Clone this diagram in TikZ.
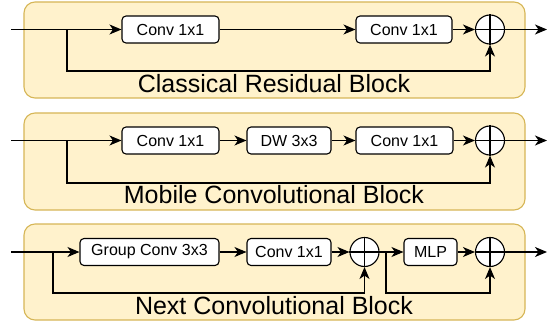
\documentclass[tikz,border=0pt]{standalone}
\usepackage{fontspec}
\setmainfont{Liberation Sans}
\usepackage{tikz}
\usetikzlibrary{arrows.meta,
    positioning}

\definecolor{panelfill}{HTML}{FFF2CC}
\definecolor{paneldraw}{HTML}{D6B656}

\begin{document}
\begin{tikzpicture}[x=1pt,y=-1pt,line width=1.1pt,
    panel/.style={draw=paneldraw,fill=panelfill,rounded corners=11pt},
    opbox/.style={draw,fill=white,rounded corners=4pt,minimum height=27pt,inner sep=0pt,
      font=\fontsize{16}{19}\selectfont},
    addop/.style={draw,fill=white,circle,minimum size=29pt,inner sep=0pt},
    arr/.style={-{Stealth[length=12pt,width=10pt,inset=3.5pt]}},
    blocklabel/.style={font=\fontsize{25}{30}\selectfont,inner sep=0pt}]
                  \useasboundingbox (0,0) rectangle (547,321);
                  % panels
                  \draw[panel] (24,2) rectangle (525,98);
                  \draw[panel] (24,113) rectangle (525,210);
                  \draw[panel] (24,224) rectangle (525,320);
                  % classical residual block
                  \coordinate (in1) at (11,29.5);
                  \coordinate (s1) at (67,29.5);
                  \coordinate (b1) at (67,71);
                  \coordinate (out1) at (547,29.5);
                  \node[opbox,minimum width=97pt] (c11) at (170.5,29.5) {Conv 1x1};
                  \node[opbox,minimum width=96pt] (c12) at (404,29.5) {Conv 1x1};
                  \node[addop] (add1) at (490,29.5) {};
                  \draw (add1.north) -- (add1.south) (add1.west) -- (add1.east);
                  \draw[arr] (in1) -- (c11);
                  \draw[arr] (c11) -- (c12);
                  \draw[arr] (c12) -- (add1);
                  \draw[arr] (add1) -- (out1);
                  \draw[arr] (s1) -- (b1) -| (add1);
                  \node[blocklabel] (lab1) at (274,84) {Classical Residual Block};
                  % mobile convolutional block
                  \coordinate (in2) at (11,140.5);
                  \coordinate (s2) at (67,140.5);
                  \coordinate (b2) at (67,183);
                  \coordinate (out2) at (547,140.5);
                  \node[opbox,minimum width=97pt] (c21) at (170.5,140.5) {Conv 1x1};
                  \node[opbox,minimum width=84pt] (dw) at (289,140.5) {DW 3x3};
                  \node[opbox,minimum width=97pt] (c22) at (404.5,140.5) {Conv 1x1};
                  \node[addop] (add2) at (490,140.5) {};
                  \draw (add2.north) -- (add2.south) (add2.west) -- (add2.east);
                  \draw[arr] (in2) -- (c21);
                  \draw[arr] (c21) -- (dw);
                  \draw[arr] (dw) -- (c22);
                  \draw[arr] (c22) -- (add2);
                  \draw[arr] (add2) -- (out2);
                  \draw[arr] (s2) -- (b2) -| (add2);
                  \node[blocklabel] (lab2) at (274,195) {Mobile Convolutional Block};
                  % next convolutional block
                  \coordinate (in3) at (11,252);
                  \coordinate (s3) at (53,252);
                  \coordinate (b3) at (53,293);
                  \coordinate (s4) at (386,252);
                  \coordinate (b4) at (386,293);
                  \coordinate (out3) at (547,252);
                  \node[opbox,minimum width=139pt] (gc) at (149.5,252) {Group Conv 3x3};
                  \node[opbox,minimum width=84pt] (c31) at (289,252) {Conv 1x1};
                  \node[addop] (add31) at (364.5,252) {};
                  \node[opbox,minimum width=53pt] (mlp) at (430.5,252) {MLP};
                  \node[addop] (add32) at (490,252) {};
                  \draw (add31.north) -- (add31.south) (add31.west) -- (add31.east);
                  \draw (add32.north) -- (add32.south) (add32.west) -- (add32.east);
                  \draw[arr] (in3) -- (gc);
                  \draw[arr] (gc) -- (c31);
                  \draw[arr] (c31) -- (add31);
                  \draw[arr] (add31) -- (mlp);
                  \draw[arr] (mlp) -- (add32);
                  \draw[arr] (add32) -- (out3);
                  \draw[arr] (s3) -- (b3) -| (add31);
                  \draw[arr] (s4) -- (b4) -| (add32);
                  \node[blocklabel] (lab3) at (274,306) {Next Convolutional Block};
              \end{tikzpicture}
\end{document}
